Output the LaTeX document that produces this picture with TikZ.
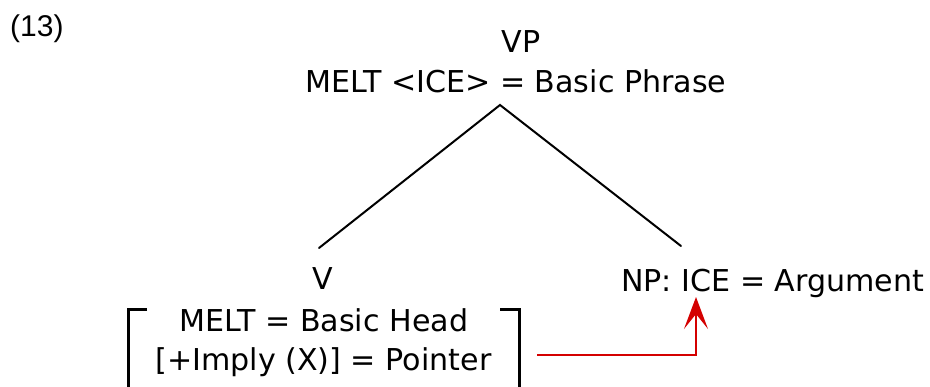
\documentclass[tikz,border=0pt]{standalone}
\usepackage{fontspec}
\setmainfont{DejaVu Sans}
\newfontfamily\numfont{Liberation Sans}
\usetikzlibrary{arrows.meta}
\definecolor{arrowred}{RGB}{212,0,0}
\begin{document}
\begin{tikzpicture}[x=1pt,y=-1pt,
  lbl/.style={inner sep=0pt, anchor=base, font=\fontsize{30.1}{38}\selectfont},
  branch/.style={line width=2pt, line cap=round},
  brk/.style={line width=3pt},
  ptr/.style={arrowred, line width=2.5pt, -{Stealth[length=32pt,width=24pt,inset=15pt]}}]
\useasboundingbox (0,0) rectangle (930,387);
\node[anchor=base west, inner sep=0pt, font=\numfont\fontsize{30}{34}\selectfont] (ex) at (10,37) {(13)};
\node[lbl] (vp) at (521,53) {VP};
\node[lbl] (vpf) at (516,93) {MELT <ICE> = Basic Phrase};
\node[lbl] (v) at (323,290) {V};
\node[lbl, anchor=base west] (np) at (621,292) {NP: ICE = Argument};
\node[lbl] (f1) at (324,332) {MELT = Basic Head};
\node[lbl] (f2) at (323.5,371) {[+Imply (X)] = Pointer};
\coordinate (apex) at (500,105);
\coordinate (vtop) at (319,248);
\coordinate (nptop) at (681,246);
\draw[branch] (vtop) -- (apex) -- (nptop);
\coordinate (bl1) at (147,310);
\coordinate (bl2) at (128,310);
\coordinate (bl3) at (128,390);
\coordinate (br1) at (500,310);
\coordinate (br2) at (519,310);
\coordinate (br3) at (519,390);
\draw[brk] (bl1) -- (bl2) -- (bl3);
\draw[brk] (br1) -- (br2) -- (br3);
\coordinate (pstart) at (537,355);
\coordinate (pcorner) at (696,355);
\coordinate (ice) at (696,297);
\draw[ptr] (pstart) -- (pcorner) -- (ice);
\end{tikzpicture}
\end{document}
